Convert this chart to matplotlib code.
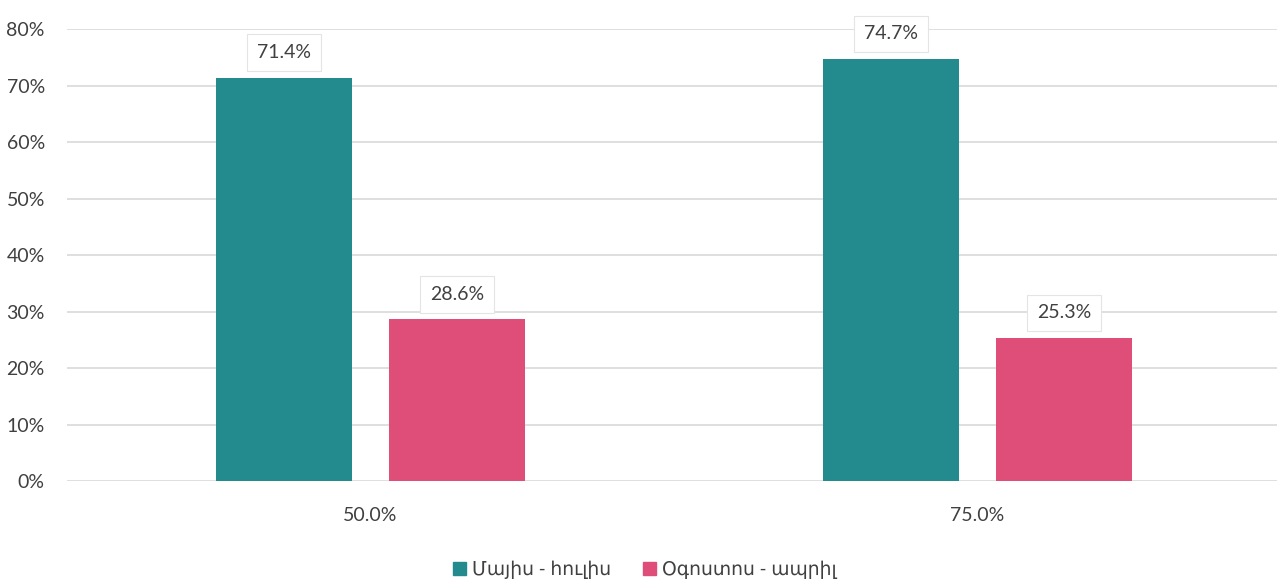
import matplotlib
matplotlib.use("Agg")
import matplotlib.pyplot as plt
import numpy as np
from matplotlib.patches import Patch

plt.rcParams["font.family"] = ["Lato", "DejaVu Sans"]

categories = ["50.0%", "75.0%"]
series_names = ["Մայիս - հուլիս", "Օգոստոս - ապրիլ"]
may_july = [71.4, 74.7]
aug_april = [28.6, 25.3]
colors = ["#238A8D", "#DF4E78"]
text_color = "#404040"

fig = plt.figure(figsize=(12.77, 5.81), dpi=100)
ax = fig.add_axes([0.0525, 0.172, 0.9507, 0.778])

x = np.arange(len(categories))
width = 0.224
offset = 0.1425
for vals, off, col in [(may_july, -offset, colors[0]), (aug_april, offset, colors[1])]:
    bars = ax.bar(x + off, vals, width, color=col, zorder=3)
    for b, v in zip(bars, vals):
        ax.annotate(f"{v:.1f}%", (b.get_x() + b.get_width() / 2, v),
                    xytext=(0, 12), textcoords="offset points",
                    ha="center", va="bottom", fontsize=14, color=text_color,
                    bbox=dict(boxstyle="square,pad=0.5", fc="white",
                              ec="#e4e4e4", lw=0.8), zorder=5)

ax.set_xlim(-0.5, 1.5)
ax.set_ylim(0, 80)
ax.set_yticks(np.arange(0, 81, 10))
ax.set_yticklabels([f"{t}%" for t in range(0, 81, 10)])
ax.set_xticks(x)
ax.set_xticklabels(categories)
ax.tick_params(axis="both", length=0, labelsize=14, colors=text_color)
ax.tick_params(axis="y", pad=16)
ax.tick_params(axis="x", pad=19)
ax.yaxis.grid(True, color="#d9d9d9", lw=1.2, zorder=0)
for s in ax.spines.values():
    s.set_visible(False)

handles = [Patch(color=c, label=n) for c, n in zip(colors, series_names)]
fig.legend(handles=handles, loc="lower center", bbox_to_anchor=(0.505, -0.025),
           ncol=2, frameon=False, fontsize=13.5, handlelength=0.7,
           handleheight=0.7, handletextpad=0.3, columnspacing=1.7,
           labelcolor=text_color)

fig.savefig("out.png", dpi=100)
